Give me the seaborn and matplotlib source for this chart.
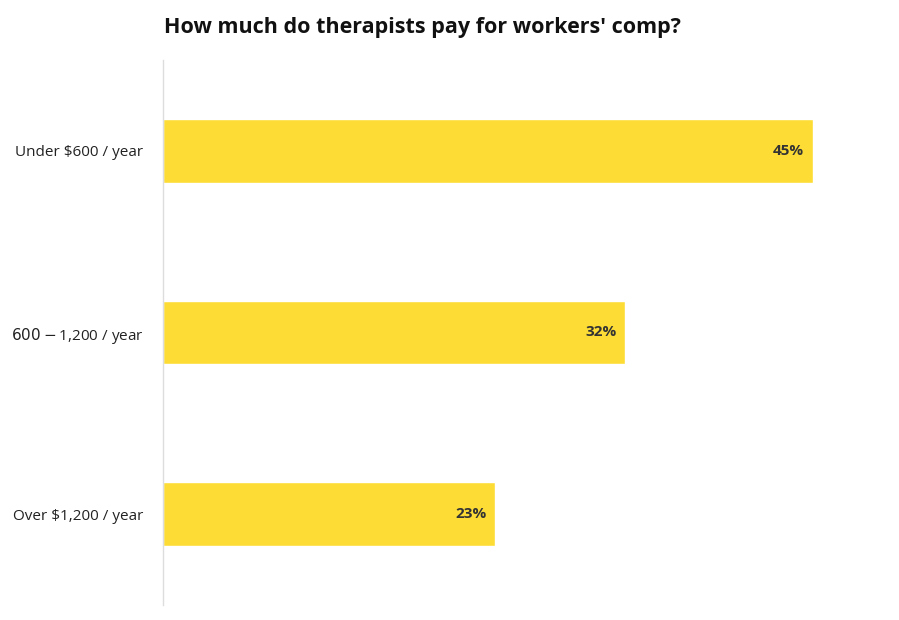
import matplotlib
matplotlib.use("Agg")
import matplotlib.pyplot as plt
import seaborn as sns
import pandas as pd

categories = ["Under $600 / year", "$600-$1,200 / year", "Over $1,200 / year"]
values = [45, 32, 23]
labels = ["45%", "32%", "23%"]

sns.set_style("white")
plt.rcParams['font.family'] = ['Open Sans', 'DejaVu Sans']

fig = plt.figure(figsize=(8.99, 6.2), dpi=100)
ax = fig.add_axes([163/899, 1-605/620, (885-163)/899, 545/620])
df = pd.DataFrame({"cat": categories, "val": values})
sns.barplot(data=df, y="cat", x="val", color="#FDDD35", saturation=1, width=0.35, ax=ax, orient="h")
ax.set_xlim(0, 50)
ax.set_ylim(2.5, -0.5)
for i, (v, l) in enumerate(zip(values, labels)):
    ax.text(v - 0.6, i, l, ha="right", va="center", fontsize=11, fontweight="bold", color="#333333")
ax.set_xlabel("")
ax.set_ylabel("")
ax.set_xticks([])
ax.tick_params(axis="y", length=0, labelsize=11, pad=14, colors="#222222")
for s in ["top", "right", "bottom"]:
    ax.spines[s].set_visible(False)
ax.spines["left"].set_color("#dddddd")
ax.spines["left"].set_linewidth(1)
fig.text(422/899, 1-28/620, "How much do therapists pay for workers' comp?", ha="center", va="center",
         fontsize=15.5, fontweight="bold", color="#111111")
fig.savefig("out.png", dpi=100)
